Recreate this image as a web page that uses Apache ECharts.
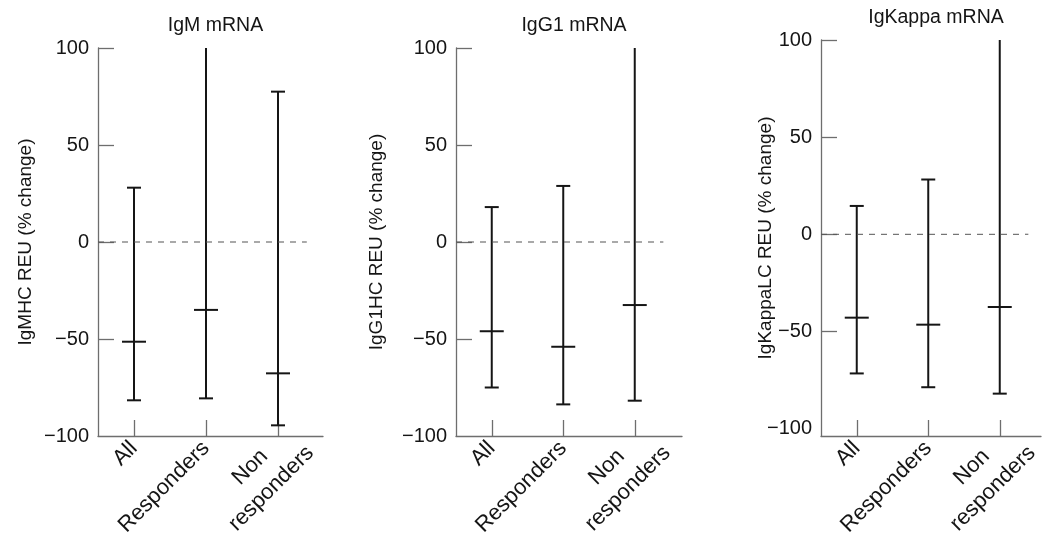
<!DOCTYPE html>
<html>
<head>
<meta charset="utf-8">
<script src="https://cdn.jsdelivr.net/npm/echarts@6/dist/echarts.min.js"></script>
<style>
  html, body { margin: 0; padding: 0; background: #fff; }
  #chart { width: 1050px; height: 538px; }
</style>
</head>
<body>
<div id="chart"></div>
<script>
// ---- data ----
const categories = ['All', 'Responders', 'Non\nresponders'];
const panelTitles = ['IgM mRNA', 'IgG1 mRNA', 'IgKappa mRNA'];
const yAxisNames = ['IgMHC REU (% change)', 'IgG1HC REU (% change)', 'IgKappaLC REU (% change)'];
const yTickValues = [-100, -50, 0, 50, 100];

const igmLow  = [-81.6, -80.6, -94.5];
const igmMid  = [-51.4, -35.0, -67.7];
const igmHigh = [28.0, 100, 77.5];

const igg1Low  = [-75.0, -83.7, -81.8];
const igg1Mid  = [-46.0, -54.0, -32.5];
const igg1High = [18.0, 28.9, 100];

const kappaLow  = [-71.6, -78.7, -82.0];
const kappaMid  = [-42.9, -46.5, -37.4];
const kappaHigh = [14.6, 28.2, 100];

// ---- layout ----
const FONT = 'Liberation Sans';
const TXT = '#151515';
const panels = [
  { low: igmLow, mid: igmMid, high: igmHigh, grid: { left: 98, top: 48, width: 225, height: 388 }, unit: 72, yMin: -100, nameGap: 63, titleTop: 11 },
  { low: igg1Low, mid: igg1Mid, high: igg1High, grid: { left: 456, top: 48, width: 226, height: 388 }, unit: 71.5, yMin: -100, nameGap: 70, titleTop: 11 },
  { low: kappaLow, mid: kappaMid, high: kappaHigh, grid: { left: 821, top: 40, width: 220, height: 396 }, unit: 71.5, yMin: -103.8, nameGap: 46, titleTop: 3 }
];
const yMax = 100;
const zeroLineEnd = 2.9;
const labelShift = [0, 0, 0.385];

function fmtTick(v) {
  return v < 0 ? '\u2212' + Math.abs(v) : String(v);
}
function fmtCat(v) {
  const idx = Math.floor(v);
  const txt = categories[idx] || '';
  if (txt.indexOf('\n') >= 0) {
    return txt.split('\n').map(s => '{c|' + s + '}').join('\n') + '\n{e| }';
  }
  return txt;
}

const option = {
  animation: false,
  backgroundColor: '#ffffff',
  title: [], grid: [], xAxis: [], yAxis: [], series: []
};

panels.forEach((p, i) => {
  const xMax = p.grid.width / p.unit;
  const catPos = categories.map((c, k) => k + 0.5);
  option.title.push({
    text: panelTitles[i],
    left: p.grid.left + p.grid.width / 2,
    top: p.titleTop,
    textAlign: 'center',
    textStyle: { fontFamily: FONT, fontSize: 19.5, fontWeight: 'normal', color: TXT }
  });
  option.grid.push(Object.assign({ containLabel: false, outerBoundsMode: 'none' }, p.grid));
  option.xAxis.push({
    type: 'value', gridIndex: i, min: 0, max: xMax, position: 'bottom',
    axisLine: { show: true, onZero: false, lineStyle: { color: '#6e6e6e', width: 1.3 } },
    axisTick: { show: true, inside: true, length: 16, customValues: catPos, lineStyle: { color: '#6e6e6e', width: 1.3 } },
    axisLabel: {
      show: true, customValues: catPos.map((v, k) => v + labelShift[k]), rotate: 45, margin: 9,
      fontFamily: FONT, fontSize: 22, color: TXT, formatter: fmtCat,
      rich: {
        c: { align: 'center', fontFamily: FONT, fontSize: 22, lineHeight: 30, color: TXT },
        e: { align: 'center', fontFamily: FONT, fontSize: 8, lineHeight: 17, color: TXT }
      }
    },
    splitLine: { show: false }
  });
  option.yAxis.push({
    type: 'value', gridIndex: i, min: p.yMin, max: yMax, position: 'left',
    name: yAxisNames[i], nameLocation: 'middle', nameGap: p.nameGap, nameMoveOverlap: false,
    nameTextStyle: { fontFamily: FONT, fontSize: 19, color: TXT },
    axisLine: { show: true, onZero: false, lineStyle: { color: '#6e6e6e', width: 1.3 } },
    axisTick: { show: true, inside: true, length: 16, customValues: yTickValues.filter(v => v > -100), lineStyle: { color: '#6e6e6e', width: 1.3 } },
    axisLabel: { show: true, customValues: yTickValues, margin: 9, fontFamily: FONT, fontSize: 20, color: TXT, formatter: fmtTick },
    splitLine: { show: false }
  });
  // dashed zero reference line
  option.series.push({
    type: 'line', xAxisIndex: i, yAxisIndex: i, symbol: 'none', silent: true,
    data: [[0, 0], [zeroLineEnd, 0]],
    lineStyle: { color: '#555', width: 1, type: [6, 6] }
  });
  // error bars with median marks
  option.series.push({
    type: 'custom', xAxisIndex: i, yAxisIndex: i, silent: true,
    data: categories.map((c, k) => [k + 0.5, p.low[k], p.mid[k], p.high[k]]),
    renderItem: function (params, api) {
      const x = api.value(0), lo = api.value(1), md = api.value(2), hi = api.value(3);
      const pLo = api.coord([x, lo]);
      const pMd = api.coord([x, md]);
      const pHi = api.coord([x, Math.min(hi, yMax)]);
      const st = { stroke: '#151515', lineWidth: 2 };
      const capW = 7, midW = 12;
      const children = [
        { type: 'line', shape: { x1: pLo[0], y1: pLo[1], x2: pHi[0], y2: pHi[1] }, style: st },
        { type: 'line', shape: { x1: pLo[0] - capW, y1: pLo[1], x2: pLo[0] + capW, y2: pLo[1] }, style: st },
        { type: 'line', shape: { x1: pMd[0] - midW, y1: pMd[1], x2: pMd[0] + midW, y2: pMd[1] }, style: st }
      ];
      if (hi < yMax) {
        children.push({ type: 'line', shape: { x1: pHi[0] - capW, y1: pHi[1], x2: pHi[0] + capW, y2: pHi[1] }, style: st });
      }
      return { type: 'group', children: children };
    }
  });
});

const chart = echarts.init(document.getElementById('chart'), null, { renderer: 'canvas' });
chart.setOption(option);
</script>
</body>
</html>
